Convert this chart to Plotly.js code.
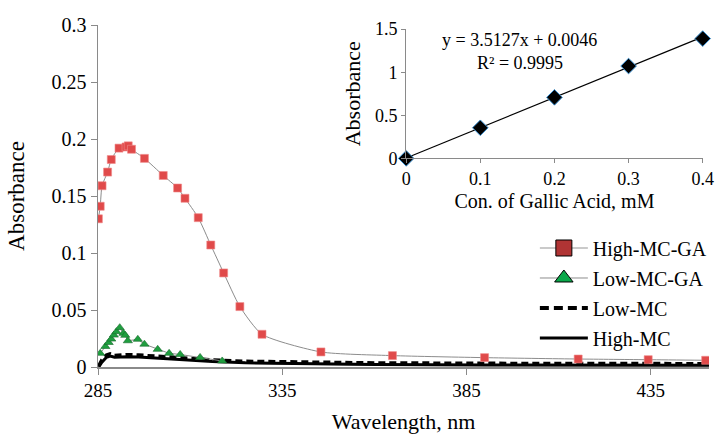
<!DOCTYPE html>
<html>
<head>
<meta charset="utf-8">
<script src="https://cdn.plot.ly/plotly-3.0.1.min.js"></script>
<style>
html,body{margin:0;padding:0;background:#fff;}
#chart{width:717px;height:434px;}
#chart svg text{font-family:'Liberation Serif' !important;}
</style>
</head>
<body>
<div id="chart"></div>
<script>
// ---- Main spectrum data ----
const wlHighGA  = [285.1, 285.6, 286.1, 287.6, 288.6, 290.7, 292.6, 293.2, 294.1, 297.6, 302.7, 306.6, 308.6, 312.2, 315.6, 319.1, 323.5, 329.5, 345.5, 364.9, 389.9, 415.3, 434.3, 449.9];
const absHighGA = [0.130, 0.141, 0.159, 0.171, 0.182, 0.192, 0.193, 0.194, 0.191, 0.183, 0.168, 0.157, 0.148, 0.131, 0.107, 0.0825, 0.053, 0.0287, 0.0132, 0.0100, 0.0082, 0.0070, 0.0064, 0.0059];

const wlLowGA  = [285.6, 287.0, 287.9, 288.6, 289.3, 290.0, 290.9, 291.9, 292.4, 293.1, 295.8, 297.6, 301.2, 304.3, 307.3, 312.7, 318.7];
const absLowGA = [0.0120, 0.0180, 0.0215, 0.0245, 0.0280, 0.0310, 0.0345, 0.0295, 0.0278, 0.0230, 0.0243, 0.0200, 0.0155, 0.0120, 0.0110, 0.0084, 0.0053];
const wlLowGATail  = [318.7, 325, 335, 350, 370, 400, 430, 450.8];
const absLowGATail = [0.0053, 0.0035, 0.0025, 0.0018, 0.0013, 0.0010, 0.0009, 0.0008];

const wlLowMC  = [285.2, 286.0, 287.3, 288.3, 289.5, 291, 293, 296, 300, 305, 310, 316, 325, 340, 360, 390, 420, 450.8];
const absLowMC = [0.001, 0.006, 0.0105, 0.0115, 0.0100, 0.0105, 0.0108, 0.0105, 0.0095, 0.0085, 0.0075, 0.0062, 0.0050, 0.0042, 0.0036, 0.0032, 0.0030, 0.0029];
const wlHighMC  = [285.2, 286.0, 287.3, 288.3, 289.5, 291, 293, 296, 300, 305, 310, 316, 325, 340, 360, 390, 420, 450.8];
const absHighMC = [0.000, 0.004, 0.0085, 0.0095, 0.0085, 0.0088, 0.0090, 0.0088, 0.0080, 0.0070, 0.0060, 0.0048, 0.0037, 0.0028, 0.0022, 0.0018, 0.0016, 0.0015];

const xTicks = [285, 335, 385, 435];
const yTicks = [0, 0.05, 0.1, 0.15, 0.2, 0.25, 0.3];
const yTickText = ['0', '0.05', '0.1', '0.15', '0.2', '0.25', '0.3'];

// ---- Inset calibration data ----
const gaConc = [0, 0.1, 0.2, 0.3, 0.4];
const gaAbs  = [0, 0.355, 0.708, 1.071, 1.39];
const insetYTicks = [0, 0.5, 1, 1.5];
const fitSlope = 3.5127, fitIntercept = 0.0046, fitR2 = 0.9995;
const fitX = [0, 0.4];
const fitY = fitX.map(v => fitSlope * v + fitIntercept);

const FONT = 'Liberation Serif';
const axisGray = '#8a8a8a';

const traces = [
  {x: wlLowGATail, y: absLowGATail, mode: 'lines', line: {color: '#8c8c8c', width: 1}, showlegend: false},
  {x: wlHighMC, y: absHighMC, mode: 'lines', line: {color: '#000', width: 3}, showlegend: false},
  {x: wlLowMC, y: absLowMC, mode: 'lines', line: {color: '#000', width: 3.5, dash: '7px,4px'}, showlegend: false},
  {x: wlLowGA, y: absLowGA, mode: 'lines+markers', line: {color: '#8c8c8c', width: 1},
   marker: {symbol: 'triangle-up', size: 8, color: '#1f9e3f', line: {color: '#17692c', width: 0.6}}, showlegend: false},
  {x: wlHighGA, y: absHighGA, mode: 'lines+markers', line: {color: '#8c8c8c', width: 1, shape: 'spline', smoothing: 0.6},
   marker: {symbol: 'square', size: 8, color: '#e04a4a', line: {color: '#f08a8a', width: 0.6}}, showlegend: false},
  // legend entries
  {x: [null], y: [null], name: 'High-MC-GA', legendgroup: 'a', mode: 'lines+markers', line: {color: '#b8b8b8', width: 1.5},
   marker: {symbol: 'square', size: 16, color: '#b03434', line: {color: '#000', width: 1}}},
  {x: [null], y: [null], name: 'Low-MC-GA', legendgroup: 'b', mode: 'lines+markers', line: {color: '#8c8c8c', width: 1},
   marker: {symbol: 'triangle-up', size: 16, color: '#0aa84a', line: {color: '#000', width: 1}}},
  {x: [null], y: [null], name: 'Low-MC', legendgroup: 'c', mode: 'lines', line: {color: '#000', width: 4, dash: '9px,5px'}},
  {x: [null], y: [null], name: 'High-MC', legendgroup: 'd', mode: 'lines', line: {color: '#000', width: 3}},
  // inset
  {x: fitX, y: fitY, xaxis: 'x2', yaxis: 'y2', mode: 'lines', line: {color: '#000', width: 1.2}, showlegend: false},
  {x: gaConc, y: gaAbs, xaxis: 'x2', yaxis: 'y2', mode: 'markers', cliponaxis: false,
   marker: {symbol: 'diamond', size: 12, color: '#000', line: {color: '#3a8fd0', width: 1}}, showlegend: false}
];

const layout = {
  width: 717, height: 434,
  margin: {l: 98, r: 5, t: 25, b: 67},
  paper_bgcolor: '#fff', plot_bgcolor: 'rgba(0,0,0,0)',
  font: {family: FONT, size: 19, color: '#000'},
  showlegend: true,
  legend: {x: 0.715, y: 0.405, xanchor: 'left', yanchor: 'top', traceorder: 'grouped', tracegroupgap: 1,
           itemwidth: 48, bgcolor: 'rgba(0,0,0,0)', font: {size: 20}},
  xaxis: {range: [285, 450.8], tickvals: xTicks, ticktext: xTicks.map(String), ticks: 'outside', ticklen: 6,
          tickcolor: axisGray, showline: true, linecolor: axisGray, linewidth: 1.5, showgrid: false, zeroline: false,
          tickfont: {size: 19}, title: {text: 'Wavelength, nm', font: {size: 22}, standoff: 14}, automargin: false},
  yaxis: {range: [0, 0.3], tickvals: yTicks, ticktext: yTickText, ticks: 'outside', ticklen: 6,
          tickcolor: axisGray, showline: true, linecolor: axisGray, linewidth: 1.5, showgrid: false, zeroline: false,
          tickfont: {size: 20}, title: {text: 'Absorbance', font: {size: 23}, standoff: 20}, automargin: false},
  xaxis2: {domain: [0.5044, 0.9897], anchor: 'y2', range: [0, 0.4], tickvals: gaConc, ticktext: gaConc.map(String),
           ticks: 'outside', ticklen: 4, tickcolor: axisGray, showline: true, linecolor: axisGray, linewidth: 1, showgrid: false, zeroline: false,
           tickfont: {size: 18}, title: {text: 'Con. of Gallic Acid, mM', font: {size: 20}, standoff: 6}},
  yaxis2: {domain: [0.610, 0.988], anchor: 'x2', range: [0, 1.5], tickvals: insetYTicks, ticktext: insetYTicks.map(String),
           ticks: 'outside', ticklen: 4, tickcolor: axisGray, showline: true, linecolor: axisGray, linewidth: 1, showgrid: false, zeroline: false,
           tickfont: {size: 18}, title: {text: 'Absorbance', font: {size: 22}, standoff: 8}},
  annotations: [
    {xref: 'x2', yref: 'y2', x: 0.153, y: 1.372, text: 'y = ' + fitSlope + 'x + ' + fitIntercept, showarrow: false, font: {size: 18}},
    {xref: 'x2', yref: 'y2', x: 0.153, y: 1.105, text: 'R² = ' + fitR2, showarrow: false, font: {size: 18}}
  ]
};

Plotly.newPlot('chart', traces, layout, {staticPlot: true, displayModeBar: false});
</script>
</body>
</html>
